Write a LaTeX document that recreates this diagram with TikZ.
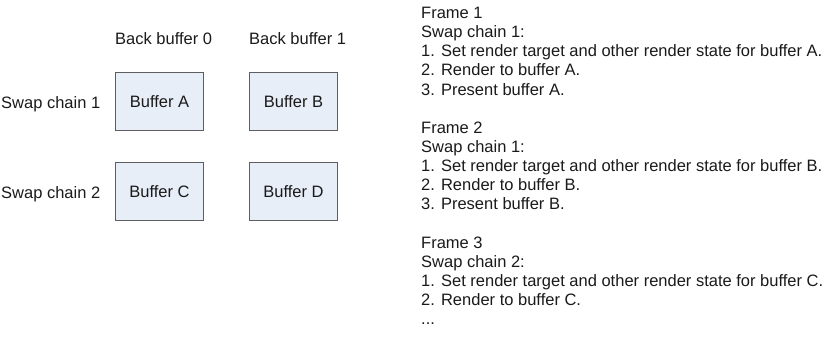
\documentclass[tikz,border=0pt]{standalone}
\usepackage{fontspec}
\setmainfont{Liberation Sans}
\usetikzlibrary{positioning}
\definecolor{BufFill}{HTML}{E8EEF8}
\definecolor{BufRule}{HTML}{5E5E5E}
\definecolor{BufInk}{HTML}{1A1A1A}

\begin{document}
\begin{tikzpicture}[
  x=1pt,y=-1pt,
  node distance=31pt and 45pt,
  txt/.style={inner sep=0pt,text=BufInk,font=\fontsize{16.5}{19.1}\selectfont},
  buffer/.style={txt,draw=BufRule,fill=BufFill,line width=1pt,minimum width=88pt,minimum height=58pt},
  colhead/.style={txt},
  rowhead/.style={txt,yshift=-3pt},
  steps/.style={txt,align=left,anchor=north west}
]
  \useasboundingbox (0,0) rectangle (826,343);
  % the four back buffers
  \node[buffer] (bufA) at (159.5,101.5) {Buffer A};
  \node[buffer,right=of bufA] (bufB) {Buffer B};
  \node[buffer,below=of bufA] (bufC) {Buffer C};
  \node[buffer,right=of bufC] (bufD) {Buffer D};
  % column and row headings
  \node[colhead,above=27pt of bufA.north west,anchor=south west] (back0) {Back buffer 0};
  \node[colhead,above=27pt of bufB.north west,anchor=south west] (back1) {Back buffer 1};
  \node[rowhead,left=14.5pt of bufA] (chain1) {Swap chain 1};
  \node[rowhead,left=14.5pt of bufC] (chain2) {Swap chain 2};
  % frame by frame steps
  \node[steps] (frame1) at (421,7.1) {Frame 1\\Swap chain 1:\\1. Set render target and other render state for buffer A.\\2. Render to buffer A.\\3. Present buffer A.};
  \node[steps] (frame2) at (421,121.7) {Frame 2\\Swap chain 1:\\1. Set render target and other render state for buffer B.\\2. Render to buffer B.\\3. Present buffer B.};
  \node[steps] (frame3) at (421,236.3) {Frame 3\\Swap chain 2:\\1. Set render target and other render state for buffer C.\\2. Render to buffer C.\\...};
\end{tikzpicture}
\end{document}
